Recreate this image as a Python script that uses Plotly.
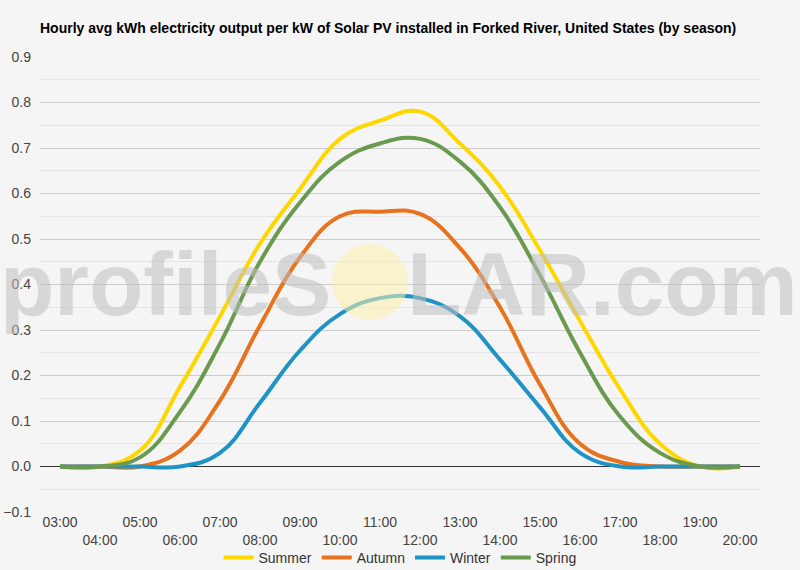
import plotly.graph_objects as go

hours = ["03:00", "04:00", "05:00", "06:00", "07:00", "08:00", "09:00", "10:00", "11:00",
         "12:00", "13:00", "14:00", "15:00", "16:00", "17:00", "18:00", "19:00", "20:00"]

summer = [0.0, 0.0, 0.035, 0.175, 0.33, 0.49, 0.61, 0.72, 0.76, 0.78, 0.71, 0.615, 0.475, 0.32, 0.17, 0.05, 0.0, 0.0]
autumn = [0.0, 0.0, 0.0, 0.035, 0.145, 0.31, 0.46, 0.55, 0.56, 0.555, 0.48, 0.35, 0.18, 0.05, 0.01, 0.0, 0.0, 0.0]
winter = [0.0, 0.0, 0.0, 0.0, 0.03, 0.14, 0.255, 0.335, 0.37, 0.37, 0.33, 0.235, 0.13, 0.03, 0.0, 0.0, 0.0, 0.0]
spring = [0.0, 0.0, 0.02, 0.12, 0.27, 0.45, 0.58, 0.67, 0.71, 0.72, 0.67, 0.57, 0.42, 0.25, 0.11, 0.03, 0.0, 0.0]

series_names = ["Summer", "Autumn", "Winter", "Spring"]
series_values = [summer, autumn, winter, spring]
series_colors = ["#FFD700", "#E8731E", "#1F93C4", "#6A9A50"]

tick_text = [h if i % 2 == 0 else "<br>" + h for i, h in enumerate(hours)]

fig = go.Figure()
for name, vals, col in zip(series_names, series_values, series_colors):
    fig.add_trace(go.Scatter(x=hours, y=vals, name=name, mode="lines",
                             line=dict(color=col, width=4, shape="spline", smoothing=1.2)))

fig.update_layout(
    width=800, height=570,
    margin=dict(l=40, r=40, t=57, b=58, autoexpand=False),
    paper_bgcolor="#F5F5F5", plot_bgcolor="#F5F5F5",
    font=dict(family="Liberation Sans, Arial", size=13, color="#444444"),
    title=dict(text="<b>Hourly avg kWh electricity output per kW of Solar PV installed in Forked River, United States (by season)</b>",
               xref="container", x=40/800, xanchor="left",
               yref="container", y=1-28/570, yanchor="middle",
               font=dict(size=14, color="#000000")),
    showlegend=True,
    legend=dict(orientation="h", x=0.5, xanchor="center",
                yref="container", y=1-558/570, yanchor="middle",
                font=dict(size=14, color="#333333"), bgcolor="rgba(0,0,0,0)"),
)

fig.update_xaxes(type="category", categoryorder="array", categoryarray=hours,
                 tickmode="array", tickvals=hours, ticktext=tick_text,
                 range=[-0.5, 17.5], showgrid=False, zeroline=False, showline=False,
                 ticks="", automargin=False, tickfont=dict(size=14, color="#444444"))
fig.update_yaxes(range=[-0.1, 0.9], dtick=0.1, tick0=0, tickformat=".1f",
                 showgrid=True, gridcolor="#CCCCCC", gridwidth=1,
                 zeroline=True, zerolinecolor="#333333", zerolinewidth=1,
                 minor=dict(dtick=0.05, showgrid=True, gridcolor="#E4E4E4"),
                 ticks="", automargin=False, tickfont=dict(size=14, color="#444444"),
                 ticklabelstandoff=8)

# watermark
fig.add_shape(type="circle", xref="paper", yref="paper",
              x0=(332-40)/720, x1=(408-40)/720,
              y0=(512-320)/455, y1=(512-244)/455,
              fillcolor="rgba(250,240,170,0.55)", line=dict(width=0), layer="above")
fig.add_annotation(text="<b>profileS</b>", xref="paper", yref="paper",
                   x=(333-40)/720, xanchor="right", y=(512-284)/455, yanchor="middle",
                   showarrow=False, font=dict(family="Liberation Sans, Arial", size=89, color="rgba(190,190,190,0.55)"))
fig.add_annotation(text="<b>LAR.com</b>", xref="paper", yref="paper",
                   x=(405-40)/720, xanchor="left", y=(512-284)/455, yanchor="middle",
                   showarrow=False, font=dict(family="Liberation Sans, Arial", size=89, color="rgba(190,190,190,0.55)"))

fig.write_html("out.html", config={"displayModeBar": False},
               post_script="document.body.style.margin='0';document.body.style.background='#F5F5F5';")
